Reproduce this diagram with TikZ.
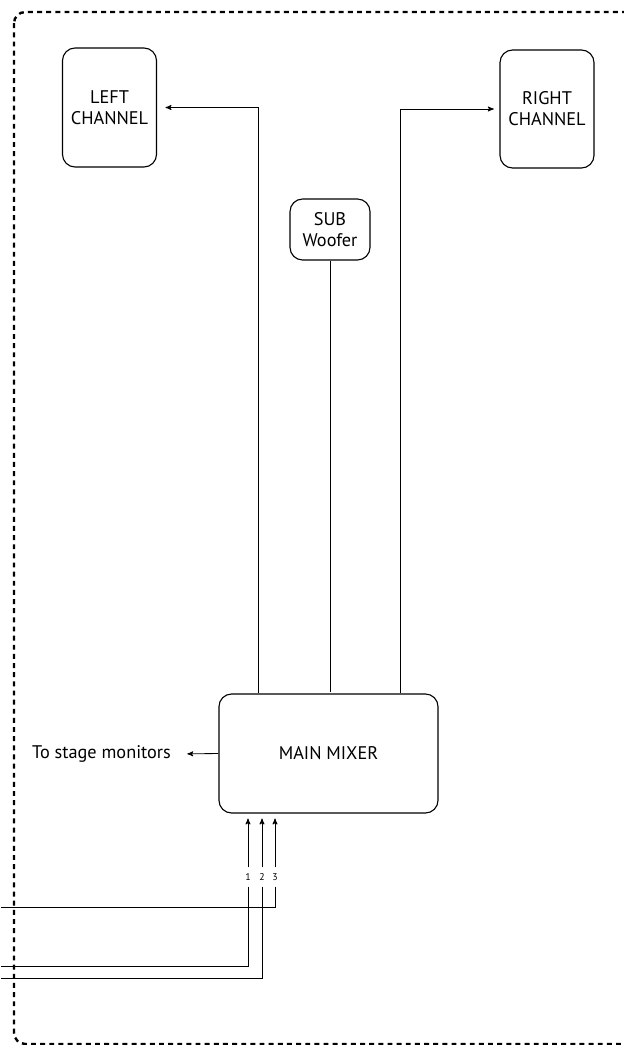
\documentclass[tikz,border=0pt]{standalone}
\usepackage{fontspec}
\setmainfont{PT Sans}
\usetikzlibrary{arrows,positioning}
\begin{document}
\begin{tikzpicture}[->,>=stealth',shorten >=1pt,semithick,x=0.025cm,y=-0.025cm,
        every node/.style={font=\fontsize{13}{15}\selectfont}]
        \tikzstyle{box}=[draw=black,thick,rounded corners=9pt,align=center,inner sep=2pt]
        \tikzstyle{frame}=[-,line width=1.7pt,dash pattern=on 3.5pt off 3pt,rounded corners=8pt]
        \clip (0,0) rectangle (624,1045);
        \draw[frame] (14,12) rectangle (700,1044);
        % boxes
        \node[box,minimum width=2.35cm,minimum height=2.975cm](left) at (109.5,107.5){LEFT\\CHANNEL};
        \node[box,minimum width=2.35cm,minimum height=2.95cm](right) at (547,109){RIGHT\\CHANNEL};
        \node[box,minimum width=2cm,minimum height=1.525cm](sub) at (330,229.5){SUB\\Woofer};
        \node[box,minimum width=5.475cm,minimum height=2.975cm](mixer) at (328.5,753.5){MAIN MIXER};
        \node[anchor=east](monitors) at (176,754){To stage monitors};
        % inputs
        \node[font=\fontsize{7}{8}\selectfont,inner sep=1pt](in1) at (248,877){1};
        \node[font=\fontsize{7}{8}\selectfont,inner sep=1pt](in2) at (262,877){2};
        \node[font=\fontsize{7}{8}\selectfont,inner sep=1pt](in3) at (275,877){3};
        \coordinate (src1) at (0,966);
        \coordinate (src2) at (0,978);
        \coordinate (src3) at (0,907);
        % connectors
        \draw[shorten >=6pt] ([xshift=-1.76cm]mixer.north) |- (left.east);
        \draw[shorten >=4pt] ([xshift=1.79cm]mixer.north) |- (right.west);
        \draw[-] (sub.south) -- (sub.south |- mixer.north);
        \draw[shorten >=8pt] (mixer.west) -- (monitors.east);
        \foreach \i in {1,2,3}{
          \draw[shorten >=3.5pt,shorten <=3pt] (in\i.north) -- (in\i |- mixer.south);
          \draw[-,shorten <=3pt] (in\i.south) |- (src\i);
        }
\end{tikzpicture}
\end{document}
